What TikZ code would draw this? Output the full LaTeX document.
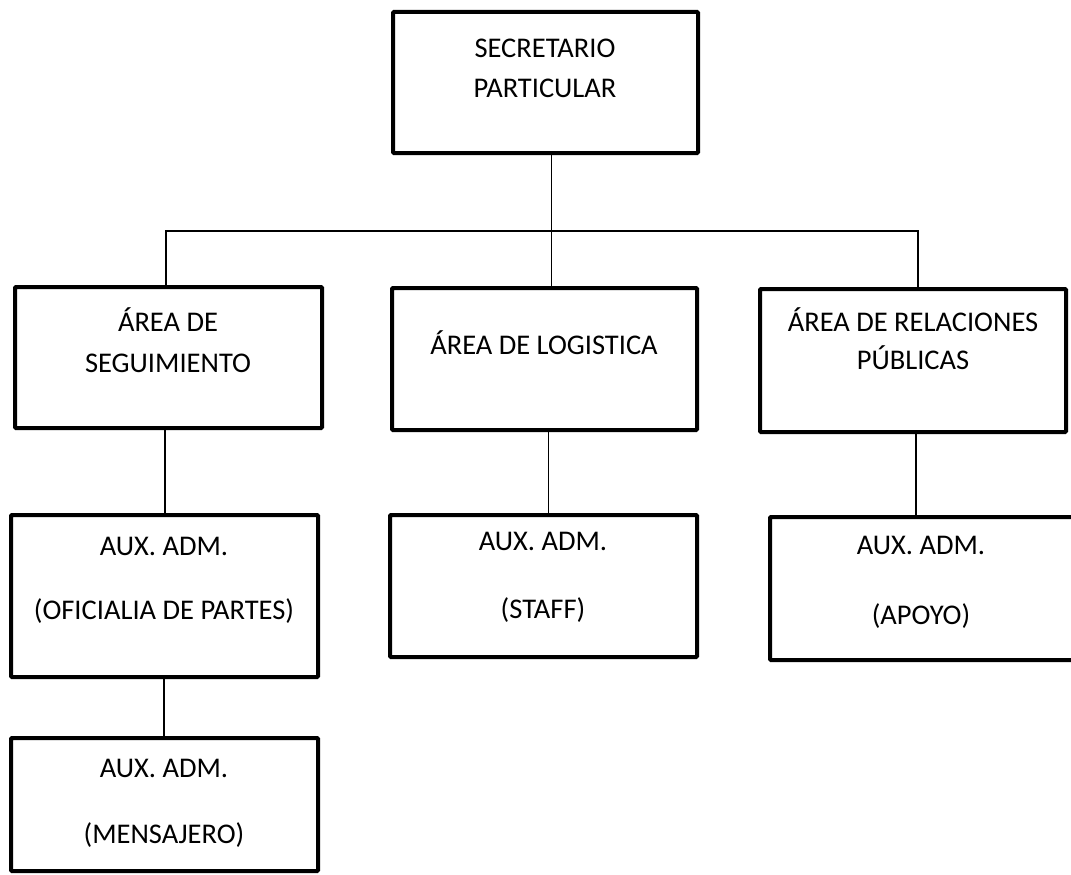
\documentclass[tikz,border=0pt]{standalone}
\usepackage{fontspec}
\setmainfont{Carlito}
\begin{document}
\begin{tikzpicture}[x=1pt,y=-1pt,
  box/.style={draw=black, line width=4pt, rounded corners=1pt, inner sep=0pt},
  lbl/.style={align=center, inner sep=0pt, text depth=0pt,
    font=\fontsize{28.5}{40}\selectfont},
  link/.style={draw=black, line width=1.8pt}]
\useasboundingbox[fill=white] (0,0) rectangle (1071,875);

% boxes
\node[box, minimum width=305pt, minimum height=141pt] (sec) at (545.5,82.5) {};
\node[box, minimum width=307pt, minimum height=141pt] (seg) at (168.5,357.5) {};
\node[box, minimum width=305pt, minimum height=142pt] (log) at (544.5,359) {};
\node[box, minimum width=306pt, minimum height=143pt] (rel) at (913,360.5) {};
\node[box, minimum width=307pt, minimum height=162pt] (ofi) at (164.5,596) {};
\node[box, minimum width=307pt, minimum height=142pt] (sta) at (543.5,586) {};
\node[box, minimum width=305pt, minimum height=143pt] (apo) at (922.5,588.5) {};
\node[box, minimum width=307pt, minimum height=133pt] (men) at (164.5,804.5) {};

% box texts
\node[lbl] (secT) at (545,68) {SECRETARIO\\PARTICULAR};
\node[lbl, font=\fontsize{28.5}{41}\selectfont] (segT) at (168,340) {ÁREA DE\\SEGUIMIENTO};
\node[lbl] (logT) at (544,343) {ÁREA DE LOGISTICA};
\node[lbl, font=\fontsize{28.5}{38}\selectfont] (relT) at (913,339) {ÁREA DE RELACIONES\\PÚBLICAS};
\node[lbl, font=\fontsize{28.5}{64}\selectfont] (ofiT) at (164,578) {AUX. ADM.\\(OFICIALIA DE PARTES)};
\node[lbl, font=\fontsize{28.5}{68}\selectfont] (staT) at (543,575) {AUX. ADM.\\(STAFF)};
\node[lbl, font=\fontsize{28.5}{70}\selectfont] (apoT) at (921,580) {AUX. ADM.\\(APOYO)};
\node[lbl, font=\fontsize{28.5}{66}\selectfont] (menT) at (164,801) {AUX. ADM.\\(MENSAJERO)};

% connector anchors
\coordinate (bus) at (0,231);
\coordinate (secD) at ([xshift=6pt]sec.south);
\coordinate (segU) at ([xshift=-2.5pt]seg.north);
\coordinate (relU) at ([xshift=5pt]rel.north);
\coordinate (segD) at ([xshift=-3.5pt]seg.south);
\coordinate (ofiD) at ([xshift=-0.5pt]ofi.south);
\coordinate (logD) at ([xshift=4pt]log.south);
\coordinate (relD) at ([xshift=3pt]rel.south);

% connectors
\draw[link] (secD) -- (secD |- log.north);
\draw[link] (segU) |- (relU |- bus) -- (relU);
\draw[link] (segD) -- (segD |- ofi.north);
\draw[link] (ofiD) -- (ofiD |- men.north);
\draw[link] (logD) -- (logD |- sta.north);
\draw[link] (relD) -- (relD |- apo.north);
\end{tikzpicture}
\end{document}
